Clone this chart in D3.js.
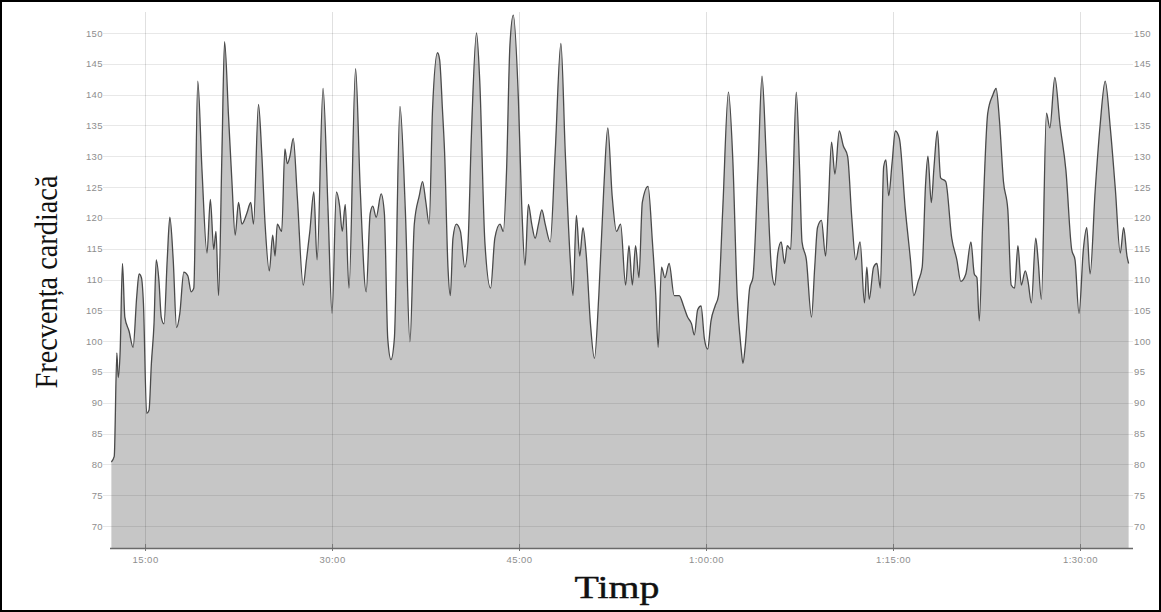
<!DOCTYPE html>
<html>
<head>
<meta charset="utf-8">
<script src="https://cdn.jsdelivr.net/npm/d3@7"></script>
<style>
  html, body { margin: 0; padding: 0; background: #fff; }
  svg { display: block; }
</style>
</head>
<body>
<svg id="chart" width="1161" height="612"></svg>
<script>
// ---- data (minutes elapsed, heart rate in bpm) ----
const minutes = [12.3,12.53,12.74,12.85,13.0,13.19,13.38,13.72,14.04,14.34,14.52,14.71,14.87,15.13,15.32,15.51,15.72,15.9,16.12,16.3,16.52,16.78,16.99,17.26,17.53,17.79,18.11,18.43,18.7,18.91,19.23,19.57,19.97,20.24,20.51,20.69,20.9,21.17,21.38,21.7,21.97,22.23,22.5,22.77,23.16,23.48,23.7,24.1,24.36,24.63,24.97,25.24,25.43,25.61,25.96,26.22,26.41,26.62,26.89,27.21,27.69,27.95,28.22,28.54,28.8,29.28,29.68,30.0,30.35,30.61,30.82,31.06,31.36,31.89,32.26,32.74,33.06,33.27,33.54,33.94,34.2,34.47,34.73,35.0,35.45,35.88,36.25,36.6,37.0,37.26,37.53,37.79,38.06,38.46,38.63,38.86,39.03,39.3,39.49,39.7,39.97,40.3,40.65,40.91,41.18,41.59,41.85,42.26,42.72,43.06,43.47,43.74,44.0,44.27,44.54,44.95,45.22,45.48,45.75,46.02,46.29,46.56,46.83,47.1,47.5,47.9,48.36,48.71,49.11,49.33,49.6,49.87,50.13,50.4,50.73,51.05,51.4,51.8,52.12,52.47,52.82,53.15,53.55,53.82,54.09,54.35,54.62,54.89,55.35,55.7,55.97,56.16,56.43,56.7,57.04,57.45,57.85,58.2,58.52,58.84,59.06,59.33,59.6,59.87,60.13,60.4,60.73,61.0,61.34,61.8,62.15,62.5,62.82,62.96,63.15,63.5,63.76,64.17,64.49,64.84,65.24,65.51,65.76,66.03,66.3,66.52,66.79,66.97,67.24,67.51,67.7,68.05,68.46,68.72,68.94,69.26,69.59,69.8,70.07,70.34,70.69,71.01,71.36,71.69,72.01,72.36,72.71,72.9,73.09,73.44,73.71,73.98,74.25,74.43,74.65,74.92,75.19,75.51,75.99,76.4,76.67,77.02,77.34,77.61,77.8,78.07,78.29,78.56,78.82,79.23,79.71,80.12,80.44,80.84,81.25,81.52,81.73,81.92,82.19,82.6,83.0,83.27,83.54,83.86,84.21,84.48,84.75,85.02,85.29,85.61,85.83,86.1,86.45,86.64,86.9,87.31,87.58,87.98,88.39,88.87,89.33,89.6,89.92,90.27,90.54,90.81,91.21,91.62,92.02,92.43,92.83,93.23,93.5,93.77,93.9];
const bpm = [80.4,81.3,98.1,94.1,98.1,112.6,103.9,101.6,99.0,107.4,110.9,110.3,106.2,88.3,88.8,96.4,102.8,113.2,109.7,103.9,102.8,113.2,120.1,113.2,102.2,104.5,111.2,110.6,108,108.6,142.2,127.7,114.3,123,114.9,117.8,107.4,130.6,148.6,136.4,125.9,117.2,122.5,119,120.7,122.5,119,138.4,130.6,119,111.4,117.2,113.8,119,117.8,131.2,128.8,130,132.9,123.6,109.1,113.2,117.8,124.2,113.2,141,121.3,104.5,124.2,121.9,117.8,122.2,108.6,144.2,124.8,108,120.7,121.9,120.1,123.9,120.7,100.4,97,100.4,138.1,121.3,99.9,119,123.6,125.9,122.5,119,137.5,146.8,145.7,137.5,130.6,112,107.4,116.7,119,117.8,112,116.1,133.5,150,142.2,116.1,108.6,116.7,119,117.8,127.7,148,152.9,139.3,121.9,112.3,122.2,119,116.7,119,121.3,119,116.1,130.6,148.3,130.6,113.2,107.4,120.4,113.8,118.4,113.8,102.8,97.2,107.4,124.8,134.6,123.6,117.8,119,109.1,115.5,109.1,115.5,110.3,122.5,125.1,116.1,107.4,99,112,110.3,112.6,107.4,107.4,105.7,103.9,102.8,101,105.1,105.7,100.4,98.7,103.3,105.7,107.4,121.3,140.4,129.4,107.4,98.7,96.4,99.3,108.6,110.3,127.7,143,129.4,112,109.1,114.3,116.1,112.6,115.5,114.9,124.8,140.4,127.7,116.1,113.2,103.9,112,118.4,119.6,113.8,121.3,132.3,127.1,134.1,131.7,130,120.1,113.2,116.1,106.2,112,106.8,112,112.6,108.6,128.3,129.4,123.6,128.8,134.1,132.9,121.3,113.2,107.4,109.7,112,125.4,130,122.5,128.3,134.1,126.5,125.9,116.7,113.2,109.7,110.9,116.1,110.9,110.3,103.3,119,137,139.9,141,135.8,125.9,121.3,109.1,108.6,115.5,109.1,111.4,109.7,106.2,116.7,113.2,106.8,137,134.6,142.8,135.2,127.7,114.9,113.2,104.5,114.9,118.4,110.9,124.2,135.2,142.2,134.6,124.8,114.3,118.4,113.8,112.6];

const xTickValues = [15, 30, 45, 60, 75, 90];
const xTickLabels = ["15:00", "30:00", "45:00", "1:00:00", "1:15:00", "1:30:00"];
const yTickValues = [70, 75, 80, 85, 90, 95, 100, 105, 110, 115, 120, 125, 130, 135, 140, 145, 150];
const yTitle = "Frecvența cardiacă";
const xTitle = "Timp";

// ---- layout ----
const W = 1161, H = 612;
const plot = { left: 111, right: 1128, top: 12, bottom: 548 };

const svg = d3.select("#chart");
svg.append("rect").attr("x", 0).attr("y", 0).attr("width", W).attr("height", H).attr("fill", "#fff");

const x = d3.scaleLinear().domain([12.27, 93.85]).range([plot.left, plot.right]);
const y = d3.scaleLinear().domain([66.43, 153.41]).range([plot.bottom, plot.top]);

const data = minutes.map((m, i) => ({ t: m, v: bpm[i] }));

// area
const area = d3.area()
  .curve(d3.curveMonotoneX)
  .x(d => x(d.t))
  .y0(y(66.43))
  .y1(d => y(d.v));
svg.append("path").datum(data)
  .attr("d", area)
  .attr("fill", "#c6c6c6");

// horizontal grid (over area, semi-transparent)
const gridG = svg.append("g");
gridG.selectAll("line.h").data(yTickValues).enter().append("line")
  .attr("class", "h")
  .attr("x1", plot.left - 8).attr("x2", plot.right + 5)
  .attr("y1", d => Math.round(y(d)) + 0.5).attr("y2", d => Math.round(y(d)) + 0.5)
  .attr("stroke", "#000").attr("stroke-opacity", 0.09).attr("stroke-width", 1);
// vertical grid
gridG.selectAll("line.v").data(xTickValues).enter().append("line")
  .attr("class", "v")
  .attr("x1", d => Math.round(x(d)) + 0.5).attr("x2", d => Math.round(x(d)) + 0.5)
  .attr("y1", plot.top).attr("y2", plot.bottom)
  .attr("stroke", "#000").attr("stroke-opacity", 0.12).attr("stroke-width", 1);

// line
const line = d3.line().curve(d3.curveMonotoneX).x(d => x(d.t)).y(d => y(d.v));
svg.append("path").datum(data)
  .attr("d", line)
  .attr("fill", "none")
  .attr("stroke", "#4a4a4a")
  .attr("stroke-width", 1.3)
  .attr("stroke-linejoin", "round");

// axes
const tickFont = "'Liberation Sans', Arial, sans-serif";
const yLeft = d3.axisLeft(y).tickValues(yTickValues).tickSize(0).tickPadding(7).tickFormat(d3.format("d"));
const gl = svg.append("g").attr("transform", `translate(${plot.left - 1},0)`).call(yLeft);
gl.select(".domain").remove();
gl.selectAll("text").attr("font-family", tickFont).attr("font-size", 9.5).attr("fill", "#8e8e8e").attr("letter-spacing", 0.4);

const yRight = d3.axisRight(y).tickValues(yTickValues).tickSize(0).tickPadding(6).tickFormat(d3.format("d"));
const gr = svg.append("g").attr("transform", `translate(${plot.right},0)`).call(yRight);
gr.select(".domain").remove();
gr.selectAll("text").attr("font-family", tickFont).attr("font-size", 9.5).attr("fill", "#8e8e8e").attr("letter-spacing", 0.4);

const xAxis = d3.axisBottom(x).tickValues(xTickValues).tickSize(0).tickPadding(8)
  .tickFormat((d, i) => xTickLabels[i]);
const gx = svg.append("g").attr("transform", `translate(0,${plot.bottom})`).call(xAxis);
gx.select(".domain").remove();
gx.selectAll("text").attr("font-family", tickFont).attr("font-size", 9.5).attr("fill", "#8e8e8e").attr("letter-spacing", 0.5);
gx.selectAll(".tick").append("line").attr("y1", -4).attr("y2", 3).attr("stroke", "#777").attr("stroke-width", 1);

svg.append("line")
  .attr("x1", plot.left - 1).attr("x2", plot.right + 5)
  .attr("y1", plot.bottom + 0.5).attr("y2", plot.bottom + 0.5)
  .attr("stroke", "#6a6a6a").attr("stroke-width", 1.5);

// titles
svg.append("text")
  .attr("transform", "translate(57,282) rotate(-90)")
  .attr("text-anchor", "middle")
  .attr("font-family", "'Liberation Serif', 'Times New Roman', serif")
  .attr("font-size", 32)
  .attr("textLength", 213).attr("lengthAdjust", "spacingAndGlyphs")
  .attr("fill", "#111")
  .text(yTitle);

svg.append("text")
  .attr("x", 617).attr("y", 598)
  .attr("text-anchor", "middle")
  .attr("font-family", "'Liberation Serif', 'Times New Roman', serif")
  .attr("font-size", 31)
  .attr("textLength", 85).attr("lengthAdjust", "spacingAndGlyphs")
  .attr("fill", "#111")
  .attr("stroke", "#111").attr("stroke-width", 0.4)
  .text(xTitle);

// frame
svg.append("rect").attr("x", 1).attr("y", 1).attr("width", W - 2).attr("height", H - 2)
  .attr("fill", "none").attr("stroke", "#000").attr("stroke-width", 2);
</script>
</body>
</html>
